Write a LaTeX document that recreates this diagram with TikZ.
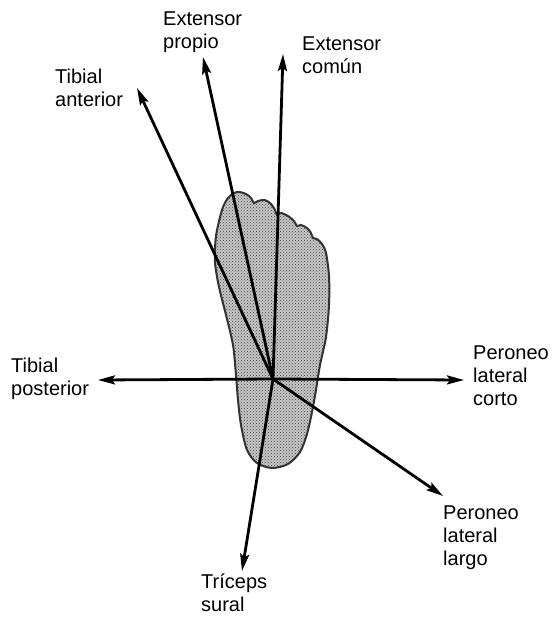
\documentclass[tikz,border=0pt]{standalone}
\usepackage{fontspec}
\setmainfont{Liberation Sans}
\usetikzlibrary{arrows.meta,patterns}
\begin{document}
\begin{tikzpicture}[x=1pt,y=-1pt,
  muscle/.style={line width=2.8pt,-{Stealth[length=17pt,width=9pt,inset=3pt]}},
  lbl/.style={anchor=north west,inner sep=0pt,align=left,
    font=\fontsize{20}{23}\selectfont},
  footshape/.style={draw=black!80,line width=2pt,
    preaction={fill=black!22},pattern=crosshatch dots,pattern color=black!75}]
\useasboundingbox (0,0) rectangle (555,617);

% sole of the foot, toes as small scallops
\path[footshape] plot[smooth cycle,tension=0.5] coordinates {
  (222,210) (228,198) (237,192) (246,194) (251,198) (254,203)
  (258,201) (265,200) (271,204) (275,210) (277,215)
  (281,213) (288,216) (294,221) (297,226)
  (301,225) (307,228) (311,233) (313,238)
  (317,239) (322,244) (326,253)
  (329,276) (329,305) (326,337) (320,365) (316,390) (312,412)
  (307,434) (300,452) (288,464) (272,468) (257,463) (247,450)
  (241,425) (238,400) (236,375) (233,345) (226,315) (219,287)
  (215,262) (216,236)};

% centre of rotation and arrow ends
\coordinate (o) at (273,379);
\coordinate (ta) at (137,88);
\coordinate (ep) at (203,57);
\coordinate (ec) at (283,54);
\coordinate (tp) at (98,380);
\coordinate (pc) at (464,380);
\coordinate (pl) at (443,496);
\coordinate (ts) at (242,571);

\foreach \t in {ta,ep,ec,tp,pc,pl,ts}
  \draw[muscle] (o) -- (\t);

% muscle names
\node[lbl] (lta) at (55,69)  {Tibial\\anterior};
\node[lbl] (lep) at (163,12) {Extensor\\propio};
\node[lbl] (lec) at (302,37) {Extensor\\común};
\node[lbl] (ltp) at (11,358) {Tibial\\posterior};
\node[lbl] (lpc) at (473,346) {Peroneo\\lateral\\corto};
\node[lbl] (lpl) at (443,506) {Peroneo\\lateral\\largo};
\node[lbl] (lts) at (201,574) {Tríceps\\sural};
\end{tikzpicture}
\end{document}
